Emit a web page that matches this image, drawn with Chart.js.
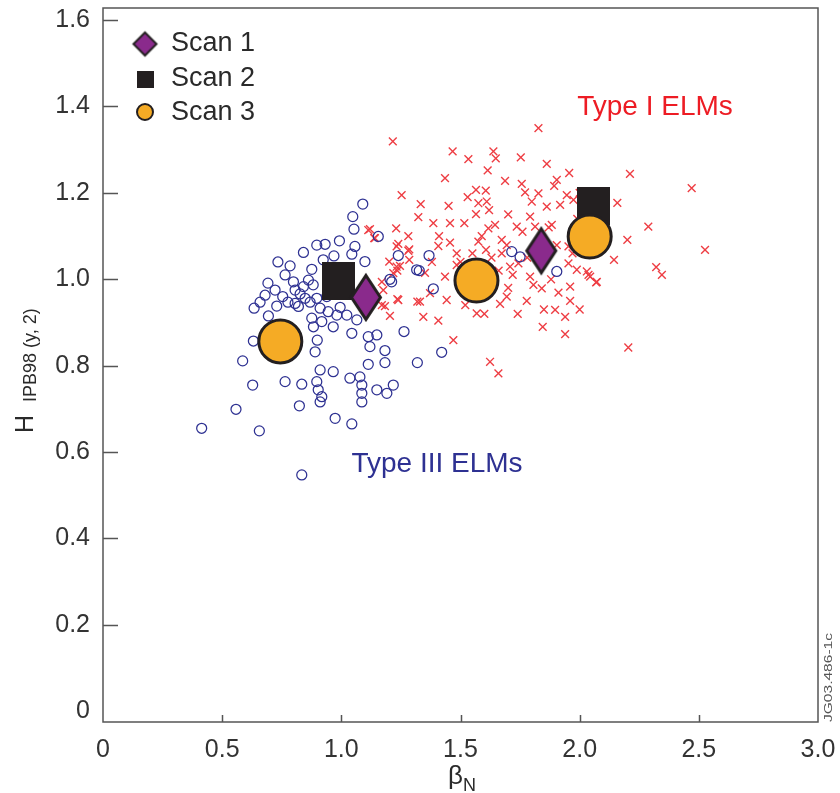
<!DOCTYPE html>
<html>
<head>
<meta charset="utf-8">
<title>H98 vs beta_N</title>
<script src="https://cdn.jsdelivr.net/npm/chart.js@4.4.1/dist/chart.umd.min.js"></script>
<style>
  html, body { margin: 0; padding: 0; background: #fff; }
  #wrap { width: 840px; height: 793px; position: relative; }
</style>
</head>
<body>
<div id="wrap"><canvas id="chart"></canvas></div>
<script>
// Type III ELMy discharges (open circles)
const typeIIIBeta = [
  1.090, 1.048, 1.053, 1.155, 0.897, 0.932, 0.992, 0.841, 0.969, 1.044,
  1.057, 1.099, 0.785, 0.876, 0.924, 0.799, 0.862, 0.882, 0.754, 0.806,
  0.841, 0.806, 0.820, 0.729, 0.634, 0.694, 0.897, 0.939, 0.911, 0.945,
  0.981, 0.876, 0.883, 0.918, 0.966, 1.023, 1.065, 1.044, 0.899, 0.890,
  0.631, 0.586, 1.113, 1.149, 1.120, 1.183, 1.263, 1.316, 1.319, 1.113,
  1.183, 0.911, 0.966, 1.036, 1.078, 1.086, 1.086, 1.086, 1.149, 1.191,
  1.218, 0.897, 0.903, 0.918, 0.911, 0.834, 0.764, 0.628, 0.558, 0.824,
  0.974, 1.044, 0.414, 0.656, 0.834, 1.204, 1.239, 1.368, 1.327, 1.211,
  1.386, 1.421, 1.715, 1.750, 1.904, 0.848, 0.869, 0.827, 0.776, 0.953,
  0.995, 0.680, 0.722, 0.764, 0.692, 0.734, 0.659
];
const typeIIIH = [
  1.174, 1.145, 1.116, 1.099, 1.079, 1.081, 1.089, 1.062, 1.054, 1.058,
  1.076, 1.041, 1.031, 1.023, 1.045, 0.994, 0.998, 0.987, 0.960, 0.975,
  0.983, 0.944, 0.937, 0.938, 0.933, 0.915, 0.956, 0.960, 0.933, 0.925,
  0.917, 0.910, 0.890, 0.902, 0.890, 0.917, 0.906, 0.875, 0.859, 0.832,
  0.857, 0.811, 0.867, 0.871, 0.844, 0.835, 0.879, 1.022, 0.807, 0.803,
  0.807, 0.790, 0.786, 0.771, 0.774, 0.755, 0.736, 0.716, 0.744, 0.736,
  0.755, 0.763, 0.744, 0.728, 0.716, 0.757, 0.763, 0.755, 0.699, 0.707,
  0.678, 0.665, 0.655, 0.649, 0.547, 1.000, 1.055, 1.055, 1.020, 0.994,
  0.978, 0.831, 1.064, 1.052, 1.018, 0.956, 0.947, 0.966, 0.947, 0.981,
  0.935, 0.963, 0.975, 1.010, 0.991, 1.040, 0.947
];

// Type I ELMy discharges (crosses)
const typeIBeta = [
  1.216, 1.827, 1.467, 1.533, 1.638, 1.648, 1.753, 1.862, 1.614, 1.956,
  1.435, 1.687, 1.904, 1.757, 1.893, 1.253, 1.565, 1.606, 1.771, 1.827,
  1.333, 1.575, 1.610, 1.799, 1.862, 1.918, 1.323, 1.565, 1.386, 1.456,
  1.516, 1.645, 1.617, 1.736, 1.792, 1.813, 1.883, 1.120, 1.141, 1.230,
  1.281, 1.589, 1.575, 1.407, 1.456, 1.673, 1.694, 1.232, 1.281, 1.484,
  1.607, 1.673, 1.904, 1.953, 1.232, 1.218, 1.351, 1.435, 1.484, 1.708,
  1.719, 1.743, 1.792, 1.953, 1.988, 1.170, 1.176, 1.330, 1.442, 1.372,
  1.239, 1.204, 1.344, 1.407, 1.470, 1.568, 1.666, 1.694, 1.778, 1.806,
  1.841, 1.897, 1.911, 1.960, 1.939, 1.845, 1.939, 1.624, 1.659, 2.072,
  2.037, 2.211, 2.470, 2.158, 2.288, 2.200, 2.526, 2.144, 2.321, 2.345,
  2.030, 2.044, 2.069, 2.204, 1.946, 1.974, 1.113, 1.138, 1.285, 1.201,
  1.246, 1.285, 1.235, 1.170, 1.183, 1.235, 1.319, 1.239, 1.520, 1.600,
  1.630, 1.500, 1.660, 1.700, 1.740, 1.780, 1.850, 1.880, 1.960, 2.000,
  1.990, 2.000, 1.870, 1.760, 1.700, 1.620, 1.530, 1.450, 1.410, 1.380,
  1.550, 1.630, 1.970
];
const typeIH = [
  1.319, 1.350, 1.296, 1.278, 1.296, 1.280, 1.282, 1.267, 1.252, 1.246,
  1.234, 1.228, 1.230, 1.221, 1.216, 1.195, 1.207, 1.205, 1.201, 1.199,
  1.174, 1.176, 1.180, 1.180, 1.168, 1.172, 1.144, 1.151, 1.130, 1.130,
  1.130, 1.126, 1.118, 1.122, 1.145, 1.122, 1.126, 1.116, 1.095, 1.118,
  1.100, 1.100, 1.087, 1.077, 1.085, 1.091, 1.079, 1.076, 1.066, 1.060,
  1.068, 1.060, 1.079, 1.076, 1.029, 1.014, 1.015, 1.006, 1.033, 1.029,
  1.010, 1.037, 1.006, 1.037, 1.022, 0.994, 0.975, 0.948, 0.952, 0.968,
  0.952, 0.915, 0.913, 0.904, 0.859, 0.921, 0.943, 0.960, 0.950, 0.987,
  0.979, 0.929, 0.969, 0.983, 0.913, 0.890, 0.873, 0.809, 0.782, 0.994,
  1.010, 1.244, 1.211, 1.177, 1.122, 1.091, 1.068, 1.045, 1.028, 1.010,
  1.018, 1.006, 0.993, 0.842, 1.195, 1.184, 1.114, 1.095, 1.069, 1.041,
  1.031, 1.045, 1.020, 0.940, 0.938, 0.954, 0.948, 1.082, 0.940, 0.920,
  1.000, 1.040, 1.020, 0.980, 0.920, 1.050, 0.930, 1.000, 0.950, 0.930,
  1.140, 1.200, 1.120, 1.110, 1.150, 1.160, 1.190, 1.170, 1.100, 1.040,
  1.060, 1.050, 1.060
];

// Power scans
const scan1Beta = [1.103, 1.839];
const scan1H = [0.958, 1.066];
const scan2Beta = [0.990, 2.056];
const scan2H = [0.997, 1.169];
const scan3Beta = [0.744, 1.567, 2.042];
const scan3H = [0.856, 0.997, 1.099];

const xTicks = [0, 0.5, 1.0, 1.5, 2.0, 2.5, 3.0];
const yTicks = [0, 0.2, 0.4, 0.6, 0.8, 1.0, 1.2, 1.4, 1.6];

const FONT = "'Liberation Sans', Arial, Helvetica, sans-serif";
const PURPLE = '#8a2a8c';
const DARK = '#231f20';
const ORANGE = '#f5ab25';
const BLUE = '#2e3192';
const RED = '#ee3e44';

function toPoints(xs, ys) {
  return xs.map((x, i) => ({ x: x, y: ys[i] }));
}

// Marker images (diamond and square are not exactly square in this figure)
function diamondImage(w, h, lw) {
  const c = document.createElement('canvas');
  c.width = w + lw * 2; c.height = h + lw * 2;
  const g = c.getContext('2d');
  const cx = c.width / 2, cy = c.height / 2;
  g.beginPath();
  g.moveTo(cx, cy - h / 2 + lw / 2);
  g.lineTo(cx + w / 2 - lw / 2, cy);
  g.lineTo(cx, cy + h / 2 - lw / 2);
  g.lineTo(cx - w / 2 + lw / 2, cy);
  g.closePath();
  g.fillStyle = PURPLE;
  g.fill();
  g.lineWidth = lw;
  g.lineJoin = 'miter';
  g.strokeStyle = DARK;
  g.stroke();
  return c;
}

function squareImage(w, h) {
  const c = document.createElement('canvas');
  c.width = w; c.height = h;
  const g = c.getContext('2d');
  g.fillStyle = DARK;
  g.fillRect(0, 0, w, h);
  return c;
}

const bigDiamond = diamondImage(32, 47, 3);
const bigSquare = squareImage(33, 38);
const smallDiamond = diamondImage(25, 25, 2);
const smallSquare = squareImage(17, 17);

// frame, inward ticks, axis titles, legend and annotations
const decorPlugin = {
  id: 'decor',
  beforeDatasetsDraw(chart) {
    const { ctx, chartArea: a, scales } = chart;
    ctx.save();
    ctx.strokeStyle = '#555';
    ctx.lineWidth = 1.5;
    ctx.strokeRect(a.left, a.top, a.right - a.left, a.bottom - a.top);
    ctx.beginPath();
    yTicks.forEach(v => {
      if (v === 0) return;
      const py = Math.round(scales.y.getPixelForValue(v)) + 0.5;
      ctx.moveTo(a.left, py);
      ctx.lineTo(a.left + 15, py);
    });
    xTicks.forEach(v => {
      if (v === 0 || v === 3.0) return;
      const px = Math.round(scales.x.getPixelForValue(v)) + 0.5;
      ctx.moveTo(px, a.bottom);
      ctx.lineTo(px, a.bottom - 7);
    });
    ctx.stroke();
    ctx.restore();
  },
  afterDraw(chart) {
    const { ctx } = chart;
    ctx.save();

    // y title: H with subscript
    ctx.fillStyle = '#2a2a2a';
    ctx.save();
    ctx.translate(33, 433);
    ctx.rotate(-Math.PI / 2);
    ctx.textBaseline = 'alphabetic';
    ctx.textAlign = 'left';
    ctx.font = '25px ' + FONT;
    ctx.fillText('H', 0, 0);
    ctx.font = '18px ' + FONT;
    ctx.fillText('IPB98 (y, 2)', 31, 3);
    ctx.restore();

    // x title: beta with subscript
    ctx.textAlign = 'left';
    ctx.textBaseline = 'alphabetic';
    ctx.font = '26px ' + FONT;
    ctx.fillText('\u03B2', 448, 784);
    ctx.font = '18px ' + FONT;
    ctx.fillText('N', 463, 791);

    // regime labels
    ctx.textAlign = 'center';
    ctx.textBaseline = 'middle';
    ctx.font = '28px ' + FONT;
    ctx.fillStyle = '#ed1c24';
    ctx.fillText('Type I ELMs', 655, 107);
    ctx.fillStyle = BLUE;
    ctx.fillText('Type III ELMs', 437, 464);

    // legend
    ctx.drawImage(smallDiamond, 145 - smallDiamond.width / 2, 44 - smallDiamond.height / 2);
    ctx.drawImage(smallSquare, 145 - smallSquare.width / 2, 79 - smallSquare.height / 2);
    ctx.beginPath();
    ctx.arc(145, 112, 8, 0, Math.PI * 2);
    ctx.fillStyle = ORANGE;
    ctx.fill();
    ctx.lineWidth = 2;
    ctx.strokeStyle = DARK;
    ctx.stroke();
    ctx.fillStyle = '#2a2a2a';
    ctx.textAlign = 'left';
    ctx.font = '27px ' + FONT;
    ctx.fillText('Scan 1', 171, 44);
    ctx.fillText('Scan 2', 171, 79);
    ctx.fillText('Scan 3', 171, 113);

    // figure reference, vertical at the right edge
    ctx.save();
    ctx.translate(832, 722);
    ctx.rotate(-Math.PI / 2);
    ctx.font = '10px ' + FONT;
    const w = ctx.measureText('JG03.486-1c').width;
    ctx.scale(89 / w, 1);
    ctx.fillStyle = '#555';
    ctx.textAlign = 'left';
    ctx.textBaseline = 'alphabetic';
    ctx.fillText('JG03.486-1c', 0, 0);
    ctx.restore();

    ctx.restore();
  }
};

function fmt(v) {
  return v === 0 ? '0' : v.toFixed(1);
}

new Chart(document.getElementById('chart').getContext('2d'), {
  type: 'scatter',
  data: {
    datasets: [
      {
        label: 'Scan 1',
        data: toPoints(scan1Beta, scan1H),
        pointStyle: bigDiamond,
        order: 0
      },
      {
        label: 'Scan 3',
        data: toPoints(scan3Beta, scan3H),
        pointStyle: 'circle',
        pointRadius: 21.5,
        backgroundColor: ORANGE,
        borderColor: DARK,
        borderWidth: 3,
        order: 1
      },
      {
        label: 'Scan 2',
        data: toPoints(scan2Beta, scan2H),
        pointStyle: bigSquare,
        order: 2
      },
      {
        label: 'Type III ELMs',
        data: toPoints(typeIIIBeta, typeIIIH),
        pointStyle: 'circle',
        pointRadius: 5,
        backgroundColor: 'rgba(0,0,0,0)',
        borderColor: BLUE,
        borderWidth: 1.25,
        order: 3
      },
      {
        label: 'Type I ELMs',
        data: toPoints(typeIBeta, typeIH),
        pointStyle: 'crossRot',
        pointRadius: 5.5,
        borderColor: RED,
        borderWidth: 1.4,
        order: 4
      }
    ]
  },
  options: {
    responsive: true,
    maintainAspectRatio: false,
    animation: false,
    layout: {
      autoPadding: false,
      padding: { top: 8, right: 22, left: 0, bottom: 0 }
    },
    plugins: {
      legend: { display: false },
      tooltip: { enabled: false }
    },
    elements: { point: { hoverRadius: 0 } },
    scales: {
      x: {
        type: 'linear',
        min: 0,
        max: 3.0,
        grid: { display: false },
        border: { display: false },
        afterBuildTicks: s => { s.ticks = xTicks.map(v => ({ value: v })); },
        afterFit: s => { s.height = 71; s.paddingLeft = 0; s.paddingRight = 0; },
        ticks: {
          padding: 5,
          color: '#333',
          font: { family: FONT, size: 25 },
          maxRotation: 0,
          callback: v => fmt(v)
        }
      },
      y: {
        type: 'linear',
        min: -0.025,
        max: 1.628,
        grid: { display: false },
        border: { display: false },
        afterBuildTicks: s => { s.ticks = yTicks.map(v => ({ value: v })); },
        afterFit: s => { s.width = 103; s.paddingTop = 0; s.paddingBottom = 0; },
        ticks: {
          padding: 5,
          color: '#333',
          // tiny line height so the end labels do not push the plot area down
          font: { family: FONT, size: 25, lineHeight: 0.2 },
          callback: v => fmt(v)
        }
      }
    }
  },
  plugins: [decorPlugin]
});
</script>
</body>
</html>
